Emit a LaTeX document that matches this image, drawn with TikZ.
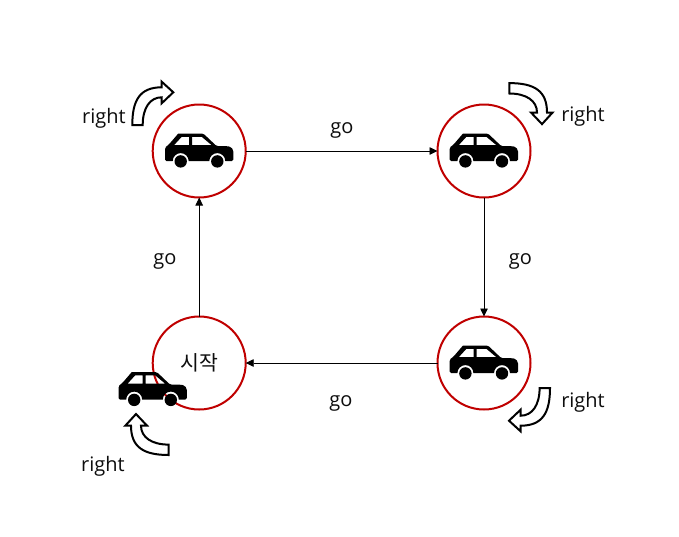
\documentclass[tikz,border=0pt]{standalone}
\usepackage{fontspec}
\setmainfont{Open Sans}
\newfontfamily\krfont{Noto Sans CJK KR}
\usetikzlibrary{arrows.meta}
\tikzset{
  x=1pt,y=-1pt,
  ring/.style={circle,draw=ringred,line width=2pt,minimum size=93pt,inner sep=0pt,outer sep=0pt,text=labelgray,font=\krfont\fontsize{20.5}{22}\selectfont},
  link/.style={draw=black,line width=0.8pt,-{Triangle[length=8pt,width=7.5pt]}},
  lab/.style={inner sep=0pt,text=labelgray,font=\fontsize{20}{22}\selectfont},
  turn/.style={draw=black,fill=white,line width=2pt,line join=miter},
  car/.pic={
    \fill[black,even odd rule]
      [rounded corners=1.6pt]
      (-20.7,-17) -- (4.3,-17) -- (17.7,-4.3) -- (29,-4.3) [rounded corners=4pt] -- (34.3,-3) [rounded corners=1.5pt] -- (34.3,10.6)
      [sharp corners] -- (26.3,10.6) arc[start angle=0,end angle=-180,radius=8]
      -- (-10.3,10.6) arc[start angle=0,end angle=-180,radius=8]
      [rounded corners=1.5pt] -- (-34,10.6) -- (-34,-3) [rounded corners=3pt] -- (-31,-5) [sharp corners] -- cycle
      (-25,-5.3) -- (-17.3,-13.7) -- (-10,-13.7) -- (-10,-5.3) -- cycle
      (-7,-13.7) -- (2.7,-13.7) -- (12.7,-5.3) -- (-7,-5.3) -- cycle;
    \fill[black] (-18.3,10.9) circle[radius=6.2] (18.3,10.9) circle[radius=6.2];
  },
  bend/.pic={
    \path[turn] (-20.7,22) -- (-10.3,22)
      .. controls (-10.3,5) and (-3,-5.7) .. (8.7,-5.7)
      -- (8.7,0.3) -- (20.3,-10.7) -- (8.7,-21.3) -- (8.7,-15.7)
      .. controls (-13,-15.7) and (-20.7,-3) .. (-20.7,22) -- cycle;
  }
}
\definecolor{ringred}{HTML}{C00000}
\definecolor{labelgray}{HTML}{0D0D0D}
\begin{document}
\begin{tikzpicture}
\fill[white] (0,0) rectangle (679,536);
\useasboundingbox (0,0) rectangle (679,536);
\node[ring] (tl) at (199.2,151) {};
\node[ring] (tr) at (484,151) {};
\node[ring] (br) at (484,363) {};
\node[ring] (bl) at (199.2,363) {시작};
\draw[link] (tl) -- (tr);
\draw[link] (tr) -- (br);
\draw[link] (br) -- (bl);
\draw[link] (bl) -- (tl);
\pic at (199,150.5) {car};
\pic at (483.7,150.5) {car};
\pic at (483.7,362.5) {car};
\pic at (152.5,389) {car};
\pic at (153,103) {bend};
\pic[rotate=-90] at (531.3,103.8) {bend};
\pic[rotate=-90*2] at (529.3,410) {bend};
\pic[rotate=-90*3] at (146.7,434.3) {bend};
\node[lab] (g1) at (342,130) {go};
\node[lab] (g2) at (520.5,261) {go};
\node[lab] (g3) at (341,403) {go};
\node[lab] (g4) at (165,261) {go};
\node[lab] (r1) at (104,118) {right};
\node[lab] (r2) at (583,116) {right};
\node[lab] (r3) at (583,402) {right};
\node[lab] (r4) at (103,466) {right};
\end{tikzpicture}
\end{document}
